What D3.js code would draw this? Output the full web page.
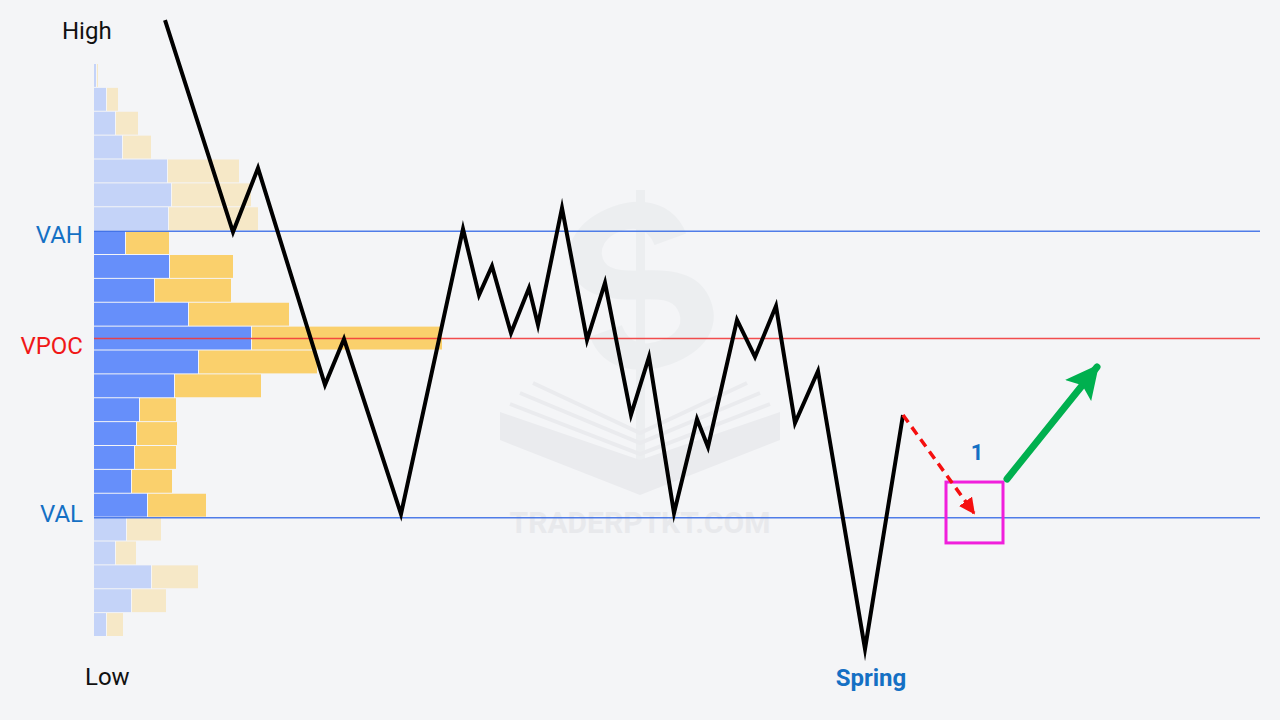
<!DOCTYPE html>
<html>
<head>
<meta charset="utf-8">
<script src="https://cdn.jsdelivr.net/npm/d3@7"></script>
<style>
  html, body { margin: 0; padding: 0; background: #f4f5f7; }
  svg { display: block; font-family: Roboto, "Noto Sans", sans-serif; }
</style>
</head>
<body>
<svg id="chart" width="1280" height="720"></svg>
<script>
// volume profile, one bin per price level, top bin first
const buyVol = [2, 12, 21, 28, 73, 77, 74, 31, 75, 60, 94, 157, 104, 80, 45, 42, 40, 37, 53, 32, 21, 57, 37, 12];
const sellVol = [2, 12, 23, 29, 72, 80, 90, 44, 64, 77, 101, 191, 119, 87, 37, 41, 42, 41, 59, 35, 21, 47, 35, 17];

// price path (time, price)
const pathT = [7.1, 13.9, 16.4, 23.1, 25.0, 30.7, 36.9, 38.5, 39.8, 41.7, 43.5, 44.4, 46.8, 49.3, 51.1, 53.7, 55.5, 58.0, 60.3, 61.4, 64.3, 66.1, 68.2, 70.1, 72.4, 77.1, 80.9];
const pathP = [25.84, 16.96, 19.64, 10.56, 12.48, 5.15, 17.09, 14.32, 15.54, 12.73, 14.62, 13.07, 17.97, 12.44, 14.83, 9.30, 11.73, 5.19, 9.13, 7.96, 13.28, 11.73, 13.86, 8.96, 11.14, -0.50, 9.30];

const levelNames = ['VAH', 'VPOC', 'VAL'];
const levelPrices = [17, 12.5, 5];

// projected move and entry zone
const dropPath = [[80.9, 9.30], [88.0, 5.19]];
const risePath = [[91.3, 6.62], [100.3, 11.31]];
const zoneT = [85.2, 90.9];
const zoneP = [3.94, 6.49];

const svg = d3.select('#chart');
const W = 1280;

const xScale = d3.scaleLinear().domain([0, 116.6]).range([94, 1260]);
const yScale = d3.scaleLinear().domain([0, 24]).range([637, 64]);
const volScale = d3.scaleLinear().domain([0, 100]).range([0, 100]);

const levelColor = { VAH: '#3d6fe6', VPOC: '#f23a3a', VAL: '#3d6fe6' };
const labelColor = { VAH: '#1470c4', VPOC: '#f01818', VAL: '#1470c4' };
const labelDy = { VAH: 12, VPOC: 15, VAL: 4 };

const vah = levelPrices[0];
const val = levelPrices[2];

svg.append('rect').attr('width', W).attr('height', 720).attr('fill', '#f4f5f7');

// watermark
const wm = svg.append('g').attr('fill', '#eceef0').attr('stroke', 'none');
wm.append('rect').attr('x', 636).attr('y', 190).attr('width', 9).attr('height', 300);
wm.append('text')
  .attr('x', 640).attr('y', 368)
  .attr('text-anchor', 'middle')
  .attr('font-size', 230)
  .attr('font-weight', 700)
  .attr('transform', 'rotate(-20 640 290)')
  .attr('fill', '#eceef0')
  .text('S');
wm.append('path')
  .attr('d', 'M500,412 L640,460 L780,412 L780,440 L640,495 L500,440 Z')
  .attr('fill', '#eaebee');
[[533, 383], [520, 393], [510, 404]].forEach(([x, y]) => {
  wm.append('path')
    .attr('d', `M${x},${y} L640,${y + 50} L${1280 - x},${y}`)
    .attr('fill', 'none')
    .attr('stroke', '#eaebee')
    .attr('stroke-width', 4);
});
wm.append('text')
  .attr('x', 640).attr('y', 533)
  .attr('text-anchor', 'middle')
  .attr('font-size', 30)
  .attr('font-weight', 700)
  .attr('fill', '#e8e9ec')
  .text('TRADERPTKT.COM');

// profile bars
const bins = buyVol.map((b, i) => ({
  lo: buyVol.length - 1 - i,
  buy: b,
  sell: sellVol[i],
}));
const inValue = d => d.lo >= val && d.lo + 1 <= vah;

const prof = svg.append('g');
const rowY = d => yScale(d.lo + 1);
const rowH = d => yScale(d.lo) - yScale(d.lo + 1) - 1;
prof.selectAll('rect.buy')
  .data(bins)
  .enter()
  .append('rect')
  .attr('class', 'buy')
  .attr('x', xScale(0))
  .attr('y', rowY)
  .attr('width', d => volScale(d.buy))
  .attr('height', rowH)
  .attr('fill', d => (inValue(d) ? '#668ffa' : '#c4d3f8'));
prof.selectAll('rect.sell')
  .data(bins)
  .enter()
  .append('rect')
  .attr('class', 'sell')
  .attr('x', d => xScale(0) + volScale(d.buy) + 1)
  .attr('y', rowY)
  .attr('width', d => volScale(d.sell) - 1)
  .attr('height', rowH)
  .attr('fill', d => (inValue(d) ? '#fad06c' : '#f6e8c7'));

// level lines
svg.selectAll('line.level')
  .data(levelNames)
  .enter()
  .append('line')
  .attr('class', 'level')
  .attr('x1', xScale(0))
  .attr('x2', xScale(116.6))
  .attr('y1', (d, i) => yScale(levelPrices[i]))
  .attr('y2', (d, i) => yScale(levelPrices[i]))
  .attr('stroke', d => levelColor[d])
  .attr('stroke-opacity', 0.9)
  .attr('stroke-width', 1.5);

svg.selectAll('text.level')
  .data(levelNames)
  .enter()
  .append('text')
  .attr('class', 'level')
  .attr('x', 83)
  .attr('y', (d, i) => yScale(levelPrices[i]) + labelDy[d])
  .attr('text-anchor', 'end')
  .attr('font-size', 24)
  .attr('fill', d => labelColor[d])
  .text(d => d);

// price path
const pts = pathT.map((t, i) => [t, pathP[i]]);
const line = d3.line().x(d => xScale(d[0])).y(d => yScale(d[1]));
svg.append('path')
  .datum(pts)
  .attr('d', line)
  .attr('fill', 'none')
  .attr('stroke', '#000')
  .attr('stroke-width', 4)
  .attr('stroke-linejoin', 'miter')
  .attr('stroke-miterlimit', 10);

// arrowheads
const defs = svg.append('defs');
defs.append('marker')
  .attr('id', 'redHead')
  .attr('viewBox', '0 0 10 10')
  .attr('refX', 9).attr('refY', 5)
  .attr('markerWidth', 4.6).attr('markerHeight', 4.6)
  .attr('markerUnits', 'strokeWidth')
  .attr('orient', 'auto')
  .append('path')
  .attr('d', 'M0,0 L10,5 L0,10 Z')
  .attr('fill', '#f50f0f');
defs.append('marker')
  .attr('id', 'greenHead')
  .attr('viewBox', '0 0 10 10')
  .attr('refX', 9).attr('refY', 5)
  .attr('markerWidth', 4.8).attr('markerHeight', 4.8)
  .attr('markerUnits', 'strokeWidth')
  .attr('orient', 'auto')
  .append('path')
  .attr('d', 'M0,0 L10,5 L0,10 L2,5 Z')
  .attr('fill', '#00b04f');

// entry zone
svg.append('rect')
  .attr('x', xScale(zoneT[0]))
  .attr('y', yScale(zoneP[1]))
  .attr('width', xScale(zoneT[1]) - xScale(zoneT[0]))
  .attr('height', yScale(zoneP[0]) - yScale(zoneP[1]))
  .attr('fill', 'none')
  .attr('stroke', '#f01fdc')
  .attr('stroke-width', 3);

svg.append('path')
  .datum(dropPath)
  .attr('d', line)
  .attr('stroke', '#f50f0f')
  .attr('stroke-width', 3.5)
  .attr('stroke-dasharray', '9,6')
  .attr('fill', 'none')
  .attr('marker-end', 'url(#redHead)');

svg.append('path')
  .datum(risePath)
  .attr('d', line)
  .attr('stroke', '#00b04f')
  .attr('stroke-width', 7)
  .attr('stroke-linecap', 'round')
  .attr('fill', 'none')
  .attr('marker-end', 'url(#greenHead)');

svg.append('text')
  .attr('x', xScale(88.3))
  .attr('y', yScale(7.4))
  .attr('text-anchor', 'middle')
  .attr('font-size', 22)
  .attr('font-weight', 700)
  .attr('fill', '#1470c4')
  .text('1');

// side labels
svg.append('text')
  .attr('x', 62).attr('y', 39)
  .attr('font-size', 24)
  .attr('fill', '#111')
  .text('High');
svg.append('text')
  .attr('x', 85).attr('y', 685)
  .attr('font-size', 24)
  .attr('fill', '#111')
  .text('Low');

const low = d3.least(pts, d => d[1]);
svg.append('text')
  .attr('x', xScale(low[0]) + 6)
  .attr('y', 686)
  .attr('text-anchor', 'middle')
  .attr('font-size', 24)
  .attr('font-weight', 700)
  .attr('fill', '#1470c4')
  .text('Spring');
</script>
</body>
</html>
